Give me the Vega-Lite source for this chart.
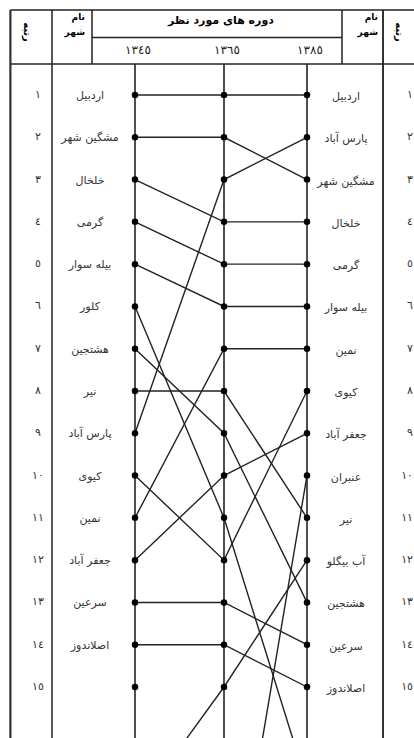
{
  "$schema": "https://vega.github.io/schema/vega-lite/v6.json",
  "width": 414,
  "height": 738,
  "padding": 0,
  "autosize": {"type": "none"},
  "background": "white",
  "config": {
    "view": {"stroke": null},
    "axis": {"disable": true},
    "font": "DejaVu Sans",
    "locale": {"number": {"decimal": ".", "thousands": ",", "grouping": [3], "currency": ["", ""], "numerals": ["٠","١","٢","٣","٤","٥","٦","٧","٨","٩"]}}
  },
  "datasets": {
    "ranks": [
      {"city": "اردبیل", "year": 1345, "rank": 1},
      {"city": "اردبیل", "year": 1365, "rank": 1},
      {"city": "اردبیل", "year": 1385, "rank": 1},
      {"city": "مشگین شهر", "year": 1345, "rank": 2},
      {"city": "مشگین شهر", "year": 1365, "rank": 2},
      {"city": "مشگین شهر", "year": 1385, "rank": 3},
      {"city": "خلخال", "year": 1345, "rank": 3},
      {"city": "خلخال", "year": 1365, "rank": 4},
      {"city": "خلخال", "year": 1385, "rank": 4},
      {"city": "گرمی", "year": 1345, "rank": 4},
      {"city": "گرمی", "year": 1365, "rank": 5},
      {"city": "گرمی", "year": 1385, "rank": 5},
      {"city": "بیله سوار", "year": 1345, "rank": 5},
      {"city": "بیله سوار", "year": 1365, "rank": 6},
      {"city": "بیله سوار", "year": 1385, "rank": 6},
      {"city": "کلور", "year": 1345, "rank": 6},
      {"city": "کلور", "year": 1365, "rank": 11},
      {"city": "کلور", "year": 1385, "rank": 17.3},
      {"city": "هشتجین", "year": 1345, "rank": 7},
      {"city": "هشتجین", "year": 1365, "rank": 9},
      {"city": "هشتجین", "year": 1385, "rank": 13},
      {"city": "نیر", "year": 1345, "rank": 8},
      {"city": "نیر", "year": 1365, "rank": 8},
      {"city": "نیر", "year": 1385, "rank": 11},
      {"city": "پارس آباد", "year": 1345, "rank": 9},
      {"city": "پارس آباد", "year": 1365, "rank": 3},
      {"city": "پارس آباد", "year": 1385, "rank": 2},
      {"city": "کیوی", "year": 1345, "rank": 10},
      {"city": "کیوی", "year": 1365, "rank": 12},
      {"city": "کیوی", "year": 1385, "rank": 8},
      {"city": "نمین", "year": 1345, "rank": 11},
      {"city": "نمین", "year": 1365, "rank": 7},
      {"city": "نمین", "year": 1385, "rank": 7},
      {"city": "جعفر آباد", "year": 1345, "rank": 12},
      {"city": "جعفر آباد", "year": 1365, "rank": 10},
      {"city": "جعفر آباد", "year": 1385, "rank": 9},
      {"city": "سرعین", "year": 1345, "rank": 13},
      {"city": "سرعین", "year": 1365, "rank": 13},
      {"city": "سرعین", "year": 1385, "rank": 14},
      {"city": "اصلاندوز", "year": 1345, "rank": 14},
      {"city": "اصلاندوز", "year": 1365, "rank": 14},
      {"city": "اصلاندوز", "year": 1385, "rank": 15},
      {"city": "", "year": 1345, "rank": 15},
      {"city": "آب بیگلو", "year": 1345, "rank": 17.9},
      {"city": "آب بیگلو", "year": 1365, "rank": 15},
      {"city": "آب بیگلو", "year": 1385, "rank": 12},
      {"city": "عنبران", "year": 1365, "rank": 21.6},
      {"city": "عنبران", "year": 1385, "rank": 10}
    ],
    "years": [{"year": 1345}, {"year": 1365}, {"year": 1385}],
    "one": [{"k": 1}]
  },
  "encoding": {
    "x": {"type": "quantitative", "scale": {"domain": [1345, 1365, 1385], "range": [135, 224, 307], "nice": false, "zero": false}, "axis": null},
    "y": {"type": "quantitative", "scale": {"domain": [1, 15], "range": [95, 687], "nice": false, "zero": false}, "axis": null}
  },
  "layer": [
    {"data": {"name": "one"}, "mark": {"type": "rule", "color": "#333", "strokeWidth": 2.2},
     "encoding": {"x": {"datum": 1317.0}, "y": {"datum": -1.01}, "y2": {"datum": 16.4}}},
    {"data": {"name": "one"}, "mark": {"type": "rule", "color": "#222", "strokeWidth": 1.5},
     "encoding": {"x": {"datum": 1326.348}, "y": {"datum": -1.01}, "y2": {"datum": 16.4}}},
    {"data": {"name": "one"}, "mark": {"type": "rule", "color": "#333", "strokeWidth": 2},
     "encoding": {"x": {"datum": 1403.313}, "y": {"datum": -1.01}, "y2": {"datum": 16.4}}},
    {"data": {"name": "one"}, "mark": {"type": "rule", "color": "#222", "strokeWidth": 1.5},
     "encoding": {"x": {"datum": 1335.337}, "y": {"datum": -1.01}, "y2": {"datum": 0.267}}},
    {"data": {"name": "one"}, "mark": {"type": "rule", "color": "#222", "strokeWidth": 1.5},
     "encoding": {"x": {"datum": 1393.434}, "y": {"datum": -1.01}, "y2": {"datum": 0.267}}},
    {"data": {"name": "one"}, "mark": {"type": "rule", "color": "#222", "strokeWidth": 1.5},
     "encoding": {"y": {"datum": -1.01}, "x": {"datum": 1317.0}, "x2": {"datum": 1420}}},
    {"data": {"name": "one"}, "mark": {"type": "rule", "color": "#222", "strokeWidth": 1.5},
     "encoding": {"y": {"datum": 0.267}, "x": {"datum": 1317.0}, "x2": {"datum": 1420}}},
    {"data": {"name": "one"}, "mark": {"type": "rule", "color": "#222", "strokeWidth": 1.5},
     "encoding": {"y": {"datum": -0.36}, "x": {"datum": 1335.337}, "x2": {"datum": 1393.434}}},
    {"data": {"name": "years"}, "mark": {"type": "rule", "color": "#222", "strokeWidth": 1.6},
     "encoding": {"x": {"field": "year"}, "y": {"datum": 0.267}, "y2": {"datum": 16.4}}},
    {"data": {"name": "ranks"}, "mark": {"type": "line", "color": "#222", "strokeWidth": 1.4, "clip": true},
     "encoding": {"x": {"field": "year"}, "y": {"field": "rank"}, "detail": {"field": "city", "type": "nominal"}, "order": {"field": "year"}}},
    {"data": {"name": "ranks"}, "transform": [{"filter": "datum.rank <= 15"}],
     "mark": {"type": "circle", "color": "#000", "opacity": 1, "size": 42},
     "encoding": {"x": {"field": "year"}, "y": {"field": "rank"}}},
    {"data": {"name": "ranks"}, "transform": [{"filter": "datum.year == 1345 && datum.rank <= 15"}],
     "mark": {"type": "text", "dx": -45, "dy": 1, "align": "center", "baseline": "middle", "fontSize": 11, "color": "#333"},
     "encoding": {"x": {"field": "year"}, "y": {"field": "rank"}, "text": {"field": "city", "type": "nominal"}}},
    {"data": {"name": "ranks"}, "transform": [{"filter": "datum.year == 1385 && datum.rank <= 15"}],
     "mark": {"type": "text", "dx": 39, "dy": 2, "align": "center", "baseline": "middle", "fontSize": 11, "color": "#333"},
     "encoding": {"x": {"field": "year"}, "y": {"field": "rank"}, "text": {"field": "city", "type": "nominal"}}},
    {"data": {"name": "ranks"}, "transform": [{"filter": "datum.year == 1345 && datum.rank <= 15"}],
     "mark": {"type": "text", "dx": -97, "align": "center", "baseline": "middle", "fontSize": 11, "color": "#333"},
     "encoding": {"x": {"field": "year"}, "y": {"field": "rank"}, "text": {"field": "rank", "type": "quantitative", "format": "d"}}},
    {"data": {"name": "ranks"}, "transform": [{"filter": "datum.year == 1385 && datum.rank <= 15"}],
     "mark": {"type": "text", "dx": 106, "align": "right", "baseline": "middle", "fontSize": 11, "color": "#333"},
     "encoding": {"x": {"field": "year"}, "y": {"field": "rank"}, "text": {"field": "rank", "type": "quantitative", "format": "d"}}},
    {"data": {"name": "years"},
     "mark": {"type": "text", "dx": 3, "align": "center", "baseline": "middle", "fontSize": 12, "color": "#222"},
     "encoding": {"x": {"field": "year"}, "y": {"datum": -0.064}, "text": {"field": "year", "type": "quantitative", "format": "d"}}},
    {"data": {"name": "one"},
     "mark": {"type": "text", "align": "center", "baseline": "middle", "fontSize": 11, "fontWeight": "bold", "color": "#000"},
     "encoding": {"x": {"datum": 1364.3}, "y": {"datum": -0.76}, "text": {"value": "دوره های مورد نظر"}}},
    {"data": {"name": "one"},
     "mark": {"type": "text", "align": "right", "baseline": "top", "fontSize": 9, "fontWeight": "bold", "lineHeight": 15, "color": "#000"},
     "encoding": {"x": {"datum": 1333.76}, "y": {"datum": -0.95}, "text": {"value": ["نام", "شهر"]}}},
    {"data": {"name": "one"},
     "mark": {"type": "text", "align": "right", "baseline": "top", "fontSize": 9, "fontWeight": "bold", "lineHeight": 15, "color": "#000"},
     "encoding": {"x": {"datum": 1402.11}, "y": {"datum": -0.95}, "text": {"value": ["نام", "شهر"]}}},
    {"data": {"name": "one"},
     "mark": {"type": "text", "align": "center", "baseline": "middle", "angle": 90, "fontSize": 10, "fontWeight": "bold", "color": "#000"},
     "encoding": {"x": {"datum": 1320.73}, "y": {"datum": -0.49}, "text": {"value": "رتبه"}}},
    {"data": {"name": "one"},
     "mark": {"type": "text", "align": "center", "baseline": "middle", "angle": 90, "fontSize": 10, "fontWeight": "bold", "color": "#000"},
     "encoding": {"x": {"datum": 1407.17}, "y": {"datum": -0.49}, "text": {"value": "رتبه"}}}
  ]
}
